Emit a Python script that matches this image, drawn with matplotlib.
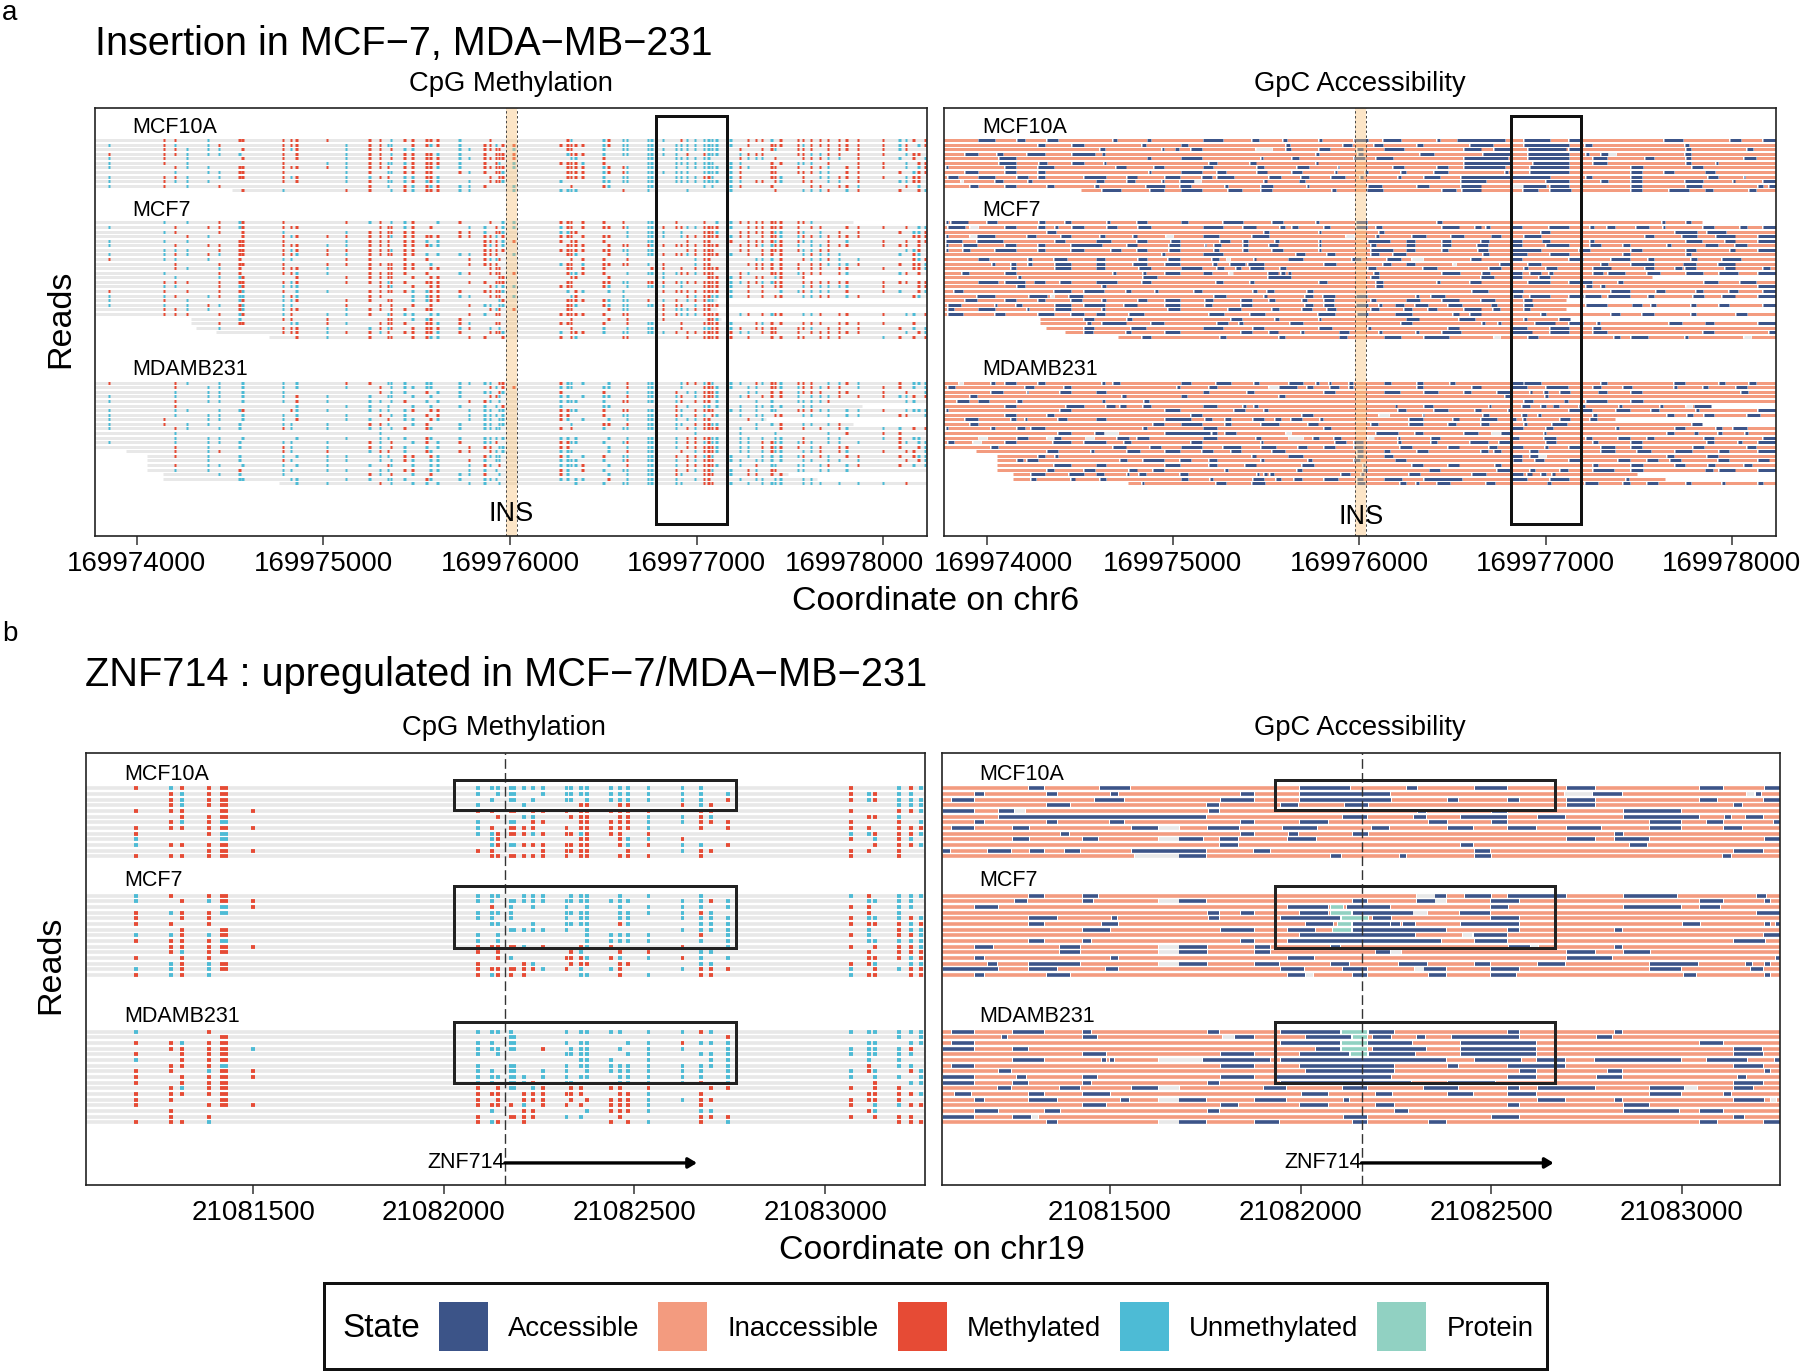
import matplotlib
matplotlib.use("Agg")
import matplotlib.pyplot as plt
from matplotlib.patches import Rectangle
from matplotlib.transforms import ScaledTranslation

plt.rcParams['font.family'] = ['Liberation Sans', 'DejaVu Sans']

W, H = 1800, 1372
DPI = 100
COL = {'acc': '#3C5488', 'ina': '#F39B7F', 'm': '#E64B35', 'u': '#4DBBD5', 'p': '#91D1C2', 'g': '#E8E8E8'}

GROUPS = ['MCF10A', 'MCF7', 'MDAMB231']

# ---- panel a ----
A_BASE = 169974000
A_TICKS = [169974000, 169975000, 169976000, 169977000, 169978000]
A_ROW0 = [0, 18, 53]
B_ROW0 = [0, 19, 43]
A_SITE_BLOCKS = [
    [-150, 145, 204, 268, 381, 440, 552, 568, 783, 826, 853, 1019, 1121, 1249, 1303, 1346, 1362, 1432, 1475, 1550,
     1576, 1609, 1727, 1780, 1861, 1893, 1925, 1941, 1962, 2021],
    [2273, 2306, 2327, 2349, 2391, 2499, 2526, 2606, 2627, 2740, 2761, 2820, 2890, 2917, 2949, 2992],
    [3040, 3062, 3083, 3105, 3180, 3233, 3276, 3319, 3351, 3400, 3421, 3448, 3544, 3571, 3614, 3662, 3705, 3764, 3802,
     3866, 4000, 4086, 4123, 4161, 4188, 4225],
]
A_CPG_MCF10A = [
    ".mm.u.mmmmmm.mm.ummmmmu..m.... .mu..umuuuuu.muu uuuuu.mmmu.mmmmmmmmmmuum.m",
    "umu.um..mmm.ummuu.mmumu.mmu.mm mmmmmumuuuu.uuuu uuuuu.m..mmmmummmmmmmum.um",
    ".mmuuu.mmum.umm.muu...uummmm.u .mm..u.uuuuuuuuu uuuu.m..mmu.mmm.mmmmmum...",
    "mmmuuuu.m.m.umm.ummmmuu.m.mmmm .ummmu.uuuuuu.m. muuu.ummm...mmuumm.mm.umm.",
    "um.u...mm.m.umm.mmmmmmuummmmmm ..uu.m...uu.uuuu uu...muuu.m..mmmuu.m.u.m.u",
    "um.u....m..uummuuummmmu.m.mu.u mmmmum...uu.uuuu uuu.uu...m.muuu.m..mm.u.mm",
    "u.muu.mmmmmmummm.mmmmuu.mmmmmu .mmmmummuuu.u.uu uuuuumu..mm.m.mmu.mmm.u.um",
    "..u.uummm...um.uummmm.mum.mmu. .mmmmummuuuuuuu. uuuuum...mm.mmmuu.mm.m.umm",
    "ummu.ummmum.uumm.uummu...m.mm. .mmmmu.uuuu.uuuu mmu.um...mmu.m.uummmm.umm.",
    "umuuu...m.m.um.uuumumu.u.mmmu. u....uuuuuu.uuuu uuuuuu.mm.mu.mm.uu.m.uumm.",
    "um.u.m.......m.u.mumumuum....u ..m..mu..uu..... u.u.um...m....mm.mmu..m.u.",
    ".......mu...mm..umummmuu.....u uuuu...m.u....u. ....u.....m..uuum.um.m..mu",
]
A_CPG_MCF7 = [
    ".u.u.mumm...mum.uum..um..m..uu mmm.mm.m.uu.m... m..uummmmmmmmmu...........",
    "u.m.mmummmm...mmmum.m..uu.m.uu umm.mmmmuuummmuu mmmmu.mmmmmmm.mm..mmm.m.uu",
    ".um..m.mu...ummmmmm...mmu.mmu. uumm....uuuu.u.. mmmu.mmmmmuumu.u.m.m.m.uum",
    "...mu..mmummmmmmummmmmmmmmu.m. mmm.mmm.uuuu.umm mmmmumm.mmmuummummmm...mmm",
    "uu.u..mmm...ummm.mmu.u..mmm.um m.mm.m...uu...m. mm..m.mmmmummuu.m.u.m.m.mm",
    "u.m.mmmmmmmuummm.mmmuu..mum.u. .mmmm.mmmmummmmm mmmm.mmmuummu.uummm.mmm.m.",
    ".uuu.mmmmummmmmmumm.....mmm.m. mmmmmmmuuuu...mm mmm..mm.mmmmmuumm.....uum.",
    "uumumummmmumummmmmmu.uuummm..u .mmu..m.uuummmum mmmmu.m.mm.m.umuuu...u.mu.",
    "muu.u.m.uu..mm...m.m...mmuum.. ..m.mm..m......u mm.....uuu.m.muumu.u...mum",
    "..m..mmmm..mmmmmmmm.u..mmmm... umm.ummmmu.m...u mm....mmmm.mm.mmuuum.m.mmu",
    "..mu.um.mmmu.m.mmmm.mm...mmm.. .mm.mm....mm.m.m mmmm...mmm.mm.mm.mm.m..mmu",
    ".u...mm.mmuu.mmmmm.m..um.mmm.m .muumm..uuuuummu mmm..mu..mmmummm.mu..um.m.",
    "..u..uum..m.mmmmm.m.mm.....mm. ..mm..m....u.... .mmmum.mm.um.mm.m.mm......",
    ".mmm.mmmmum.mmmumm.mmm.mm.mmm. .mm..mmuummmmumm mmmmuummuumm.mmmmmm.mmm.mm",
    ".uu..mumuuu...mmu.m.mm...mu.uu mmm..mu.uuuu.u.. mmmmu.m.m.mm.umuuuu.m...mmm",
    "mm.m.mmum.uu.mmmmmuummm.mmmmu. .u.mu.uu...mmmmm mmmmu.m.m..uumuuu.m.mu..mu",
    "uum.umuuumu..mm...uummuu.mmm.u ..um...u......mu mmuuu.m.m.mm.uumm.um...mu.",
    "um.u..umuum.mm.mm.uumm.....um. .mmmmmuuum.um.um muu.m.mm.m.m.ummuu.mmm.mm.",
    "uu.umumuuu..m.m.m.m.m..muu.uu. .mmu.muuuuummm.u mmmm......................",
    ".mmuu.muumm.umm.mm.mm....mum.m .mm...muu..muuum mm..m.m.mm.m.mmmm.m.m.mm.u",
    ".mmm.mumum.uum.umuu.uu.mu.mm.. mmmmmm.mm..mmuuu mmmm.um.mumm.uum.mm.m.uu.m",
    "......u.mm.m...mm.uum.m....... ..m...m.m..m.... .mmu......................",
    ".....mmm.uumu.mmmm.mmumu..mm.. mmm..m..muu..m.. mmmmu..mum.m.mmm.mmmm..m..",
    ".....u..mmmu.umum.mmmmum.u.u.. ..m..u..uuu..m.. uummum.mmmm.mmu.mm.m.m.u.u",
    "........mmmummum.mmmmum..mmmu. u.mmmu.uuuuum.mm mmmmmuu.mmm.m.mmmmmm..u.mu",
    "..........mu.m.mm.mmuu.mm...m. m.mu...mm.....m. mmmmm.m..m.mmm.mmm..um.m.m",
]
A_CPG_MDAMB = [
    "m.mu.u.uu.u.mm.uuu.uu.uuuu.mm. muu.u.u.muu..umm umu.uu.mummummm.uumu.m.uuu",
    "..m.uu.uu.u.u.m.uuuuu.u..mu.mm uuu..uu.muu..u.. mmmuu.uu.mmuummumm.umm.u.u",
    "..u.uu.uu.....m.uu.m.uu.uu.mu. m....m..uuu.m.uu mmmu..uu.m.mummm.mm.m.m..u",
    "u.u.uu.uu.mu.u.uu.u.u.u..mmu.. uu..uuu.muu.um.u mmmu.um.mm.mu.uuum.mmuum.m",
    "u.m.uu.uu.mu.uu.um.u.u.mmu.u.. uuuu.u.mmuu.um.m mm.u...u.u..uuuum.....uu..",
    "..m.......u.uu.u..u.u.u.u.u.m. u....uu.....m.u. uu.u.u.uuu.u.uu...........",
    "u.uu.uum.muu.uuu.um.mm.uuu.uu. mmuu.m.mmuu.mu.m mmm.uu.u.uu.mmmuu.uum.uuuu",
    "u.u.uu.uu.u.u.m.uu.m.m.uuuu.u. mm...m.uuuu.mu.m u.mu.u.uu.mm.uu.u.uu.mm..u",
    "um..uu.uu.m.uu.m.uu.mu.uuu.uu. mu..u.u.uuu.u.uu mm....m.uu................",
    "um.uu.u.uu.u.mmu..um..u.uu.uu. ..u..mm.muu.uu.m mmuu...u.u.m.uu.um........",
    "u.mu.uu.mu.u.uu.um.mu.u.uuuu.. m.m..u.uuuu.u.mu mmmm.u.u...m.m.m.mu.uu.m.m",
    "..u...........u............... ...............u .....u....u.....u.m.mm....",
    "..u.uu.u..u.u.uu.u.mu.u.uuu.u. uu.u..u.uuu.u.mm mmuu.uu.u.uu.m..uu..um.uu.",
    "u.u.uuu.uu.u.mu.m.um.um.uum... mmuu.u.umuu.u.mm umuu.uu.mmuuumu.uu.u.mu.uu",
    "..m.u.u.mu.u.mu.mu.u.u.mmm.uu. mm....u.uuu.u.mm mmmu.uu.mmumm.um.mm..m..mu",
    "..m.um..mu.m.umm.u.mu.mm.mu.u. uuu...u.muu..m.u mmmu.uu.umuu.uum.mu.m.mm.u",
    "..m.u.u.u.uuu.uu.mm.mu..muuu.. mu..um.uuuu.m.mm umu.u.u.uu.uum.mu.mm.m.muu",
    "....u.u.mu.uu.u.umu.uu.mu.uu.. uuuu.u.umuu.u.mu mmm.uu.uuu.u.uu.uu.u..m.mu",
    "..m.uu.uu.uu.u.mu.u.uu.umu.m.. uuuum.u.muu.u.mm mmmu.u.m.uu.uu.um.um.m.u.u",
    "..u.u.m.uu.uu.uu.mm.uu.uu.u... mu..mu.uuuu.m.mu mmu.u.mu.mm.uu.uu.u.......",
    ".....uu.u....mu.m.u.m.uum..u.. mu....u.uuu.mu.. mmm.u.mm.m.muu.uu.........",
    "......uu.uu.uu.uuu.mu.u.uuu... uu.uu.m.uuu.u..u mm...u.uu.uu.uuu.u........",
    "..........uu..m.u.uu.u.uu..u.. ...u.u.uuuu.uu.. mmm.u.u.uuuu.uuu.u.uu.m...",
]
A_SPANS_MCF10A = {11: (257, None)}
A_SPANS_MCF7 = {0: (None, 1388), 12: (None, 1298), 17: (None, 1140), 19: (None, 1140), 21: (183, 1148),
                22: (183, None), 23: (193, None), 24: (228, None), 25: (325, None)}
A_SPANS_MDAMB = {5: (None, 1405), 8: (None, 1230), 9: (None, 1388), 15: (65, None), 16: (103, None), 17: (103, None),
                 18: (103, None), 19: (103, None), 20: (132, 1270), 21: (132, 1322), 22: (343, None)}

A_GPC_MCF10A = [
    "70-100 140-155 195-215 315-322 378-385 480-515 568-582 625-632 690-697 755-780 808-840 905-912 943-1030 1065-1112 1147-1167 1320-1355 1440-1460 1500-1525",
    "178-192 240-262 368-375 440-452 630-637 735-750 790-808 870-880 965-1008 1065-1147 1175-1188 1358-1365",
    "292-300 405-408 432 458-478 g575-605 630-640 690-710 760-770 810-845 955-985 1010-1040 1072-1140 1147-1167 1360-1368 1470-1482",
    "45-70 103-115 158-192 240-282 296-300 685-690 762-770 875-900 990-1040 1072-1147 1180 1205-1218 g1218-1232 1358-1368",
    "108-138 378-385 440-478 585-588 642-655 755-775 795-825 955-1035 1072-1147 1190-1215 1285-1302 1360-1368 1465-1488",
    "108-138 180-195 240-262 298-302 490-505 565-575 685-688 955-1040 1080-1147 1190-1215 1360-1368 1415-1418",
    "10-15 118-138 178-208 320-338 390-408 480-498 578-590 650-672 725-728 825-845 905-925 955-1030 1075-1147 1260-1282 1370-1390",
    "45-70 118-138 178-192 380-385 440-478 505-522 578-595 642-660 720-723 775-780 840-850 900-925 1030-1035 1075-1147 1260-1280 1320-1338 1395-1412",
    "15-32 70-100 140-160 178-192 262-302 340-358 410-438 478-495 505-535 600-622 658-672 712-738 765-770 835-840 882-912 950-1112 1178-1188 1260-1280 1400-1418 1465-1468",
    "g38-42 100-115 160-168 285-298 340-355 405-408 438-462 g462-475 590-595 655-665 950-995 1105-1147 1205-1218 1260-1280 1358-1390 1445-1448 1500-1525",
    "55-70 118-138 195-208 282-290 375-410 438-458 520-525 585-607 668-672 780-806 870-892 950-985 g1045-1060 1062-1105 1112-1147 1260-1280 1360-1388 1490-1500 1510-1525",
    "295-330 382-408 440-478 525-550 585-605 715-722 778-808 915-940 952-985 1062-1090 1112-1150 1260-1280 1328-1365 1395-1408 1475-1488",
]
A_GPC_MCF7 = [
    "10-15 20-50 85-103 180-192 228-238 305-310 358-378 440-452 515-552 605-625 685-690 758-778 905-915 1315-1322 1360-1368",
    "15-45 g55-70 118-138 178-192 210-215 240-262 305-322 360-385 480-515 552-575 620-628 642-652 700-710 758-778 795-805 915-945 975-985 995-1002 1040-1060 1110-1147 1185-1192 1215-1230 1268-1292 1318-1322 1390-1410 1458-1470 1500-1525",
    "195-212 590-600 690-695 800-810 1095-1112 1340-1380 1398-1432",
    "10-15 g55-65 68-100 158-175 220-238 292-300 352-358 g412-425 480-508 568-600 g740-755 795-800 860-885 932-955 1005-1022 1065-1095 1285-1302 1352-1380 1415-1448 1490-1525",
    "10-40 68-115 210-228 285-312 358-378 420-438 510-528 552-562 610-618 690-695 780-820 850-865 915-932 985-1000 1040-1060 1098-1112 1185-1192 1360-1388 1430-1448 1490-1525",
    "10-15 42-68 118-138 178-192 238-295 340-358 418-438 482-485 500-512 552-562 600-615 690-695 785-795 850-865 915-932 978-998 1040-1060 1105-1147 1185-1205 1245-1258 1325-1332 1395-1418 1448-1470",
    "10-15 42-55 100-138 178-192 238-262 312-330 358-378 418-438 500-508 552-562 605-625 690-695 785-825 850-865 915-925 980-998 1040-1095 1165-1185 1260-1280 1360-1378 1440-1448 1490-1525",
    "405-410 480-515 648-665 705-720 785-800 825-850 990-1000 1040-1070 1112-1147 1245-1258 1360-1368",
    "70-90 160-168 208-232 285-300 360-378 415-438 495-508 g525 572-575 635-662 750-768 815-840 g860-880 968-985 1040-1060 1147-1172 1222-1258 1290-1302 1368-1380 1425-1460",
    "95-100 130-138 160-168 210-238 285-300 352-378 410-438 498-505 528-555 562-590 700-722 808-822 850-865 g938 1020-1040 1072-1095 1205-1218 1260-1302 1355-1378 1418-1448",
    "130-138 210-238 285-300 362-385 440-478 505-518 540-548 565-590 620-630 780-795 880-905 1000-1022 1065-1072 1105-1125 1190-1222 1285-1302 1340-1352 1358-1378 1430-1448 1500-1512",
    "40-52 118-138 315-320 370-375 410-438 480-495 g530 598-615 622-628 635-640 790-800 915-948 988-1002 1040-1060 1075-1095 1110-1118 1190-1208 1218-1248 1288-1312 1360-1390 1420-1455 1490-1525",
    "142-148 370-395 598-640 785-800 985-1010 1040-1060 1092-1112",
    "70-105 118-155 172-192 218-238 285-322 368-385 502-515 565-572 690-705 795-808 905-912 965-985 1072-1112 1147-1188 1235-1245 1392-1418 1458-1488",
    "140-155 295-302 795-808 1178-1188 1205-1212 1490-1525",
    "25-42 208-238 262-298 338-348 392-398 462-478 570-578 595-608 668-680 970-998 1040-1062 1222-1258 1305-1322 1378-1390 1438-1455 1500-1525",
    "68-100 162-195 g205 235-260 500-522 590-595 665-680 698-720 758-778 870 895-920 1045-1060 1075-1112 1147-1172 1175-1205 1218-1258 1290-1302 1372-1392 1425-1448 1490-1525",
    "45-68 118-138 178-192 238-258 295-302 360-378 410-438 482-498 548-568 600-610 660-668 700-718 785-795 850-875 915-945 985-1012 1065-1078",
    "15-38 100-103 138-150 210-238 262-300 335-358 410-438 482-495 548-568 665-680 700-718 758-780 800-805 830-845 865-890 925-952 1005-1015 1065-1080 1178-1215 1262-1280 1295-1305 1368-1378 1420-1438 1500-1525",
    "15-25 70-100 158-162 210-238 295-300 415-438 525-548 605-618 660-678 705-722 785-800 845-860 890-905 955-985 1008-1020 1065-1075",
    "15-42 100-118 178-208 238-262 285-300 345-372 490-518 565-592 688-720 760-780 830-860 935-945 965-985 1095-1105 1222-1240 1280-1302 1368-1378 1450-1470",
    "262-280 340-350 530-550 610-618 690-695 850-872 945-975 1065-1070 1128-1148",
    "268-275 295-338 385-408 505-525 545-552 638-662 840-860 990 1020 1085-1120 1147-1172 1200 1328-1352 1395-1410 1490-1525",
    "262-280 348-375 480-515 570-590 690-715 780-785 925-945 1040-1070 1112-1147 1190-1205",
    "262-278 338-348 410-438 548-568 600-615 660 728-745 800-805 870 915-950 1040-1078 1112-1147 1190-1215 1390-1410 1510-1525",
    "368-385 510-522 618-628 728-742 810-840 882-928 g1010-1020 1072-1090 1228-1240 1260-1290 1360 g1465-1478",
]
A_GPC_MDAMB = [
    "g38 92-100 118-138 178-192 295-300 315-328 440-458 503-530 572-582 636-662 685-690 708-712 745-752 810-822 870-880 930-938 1040-1062 1065-1095 1205-1215 1338-1358 1420-1430 1475-1488",
    "15-28 155-172 225-238 432-438 490-505 g600-615 618-650 668-680 710-728 745-752 870-880 970-985 1040-1070 1105-1145 1190-1205 1245-1262 1340 1390-1400 1450-1470",
    "92-115 158-160 218-238 285-302 480-490 560-572 700-720 810-838 882-908 955-968 1015-1040 1075-1078 1100-1108 1130-1148 1200-1215 1260-1280 1460-1472",
    "55-68 332-338 440-450 618-628 1030-1040 1105",
    "30-52 70-90 140-150 296-300 372-380 1065-1080 1138-1145 1178-1215 1260-1282",
    "118-138 230-262 302-318 328-338 370-385 480-505 555 572-580 830-832 882-898 1000-1005 1060-1075 1095-1105 1118-1128 1165-1175 1240 1315 g1360-1370 1375-1405",
    "10-15 218-238 410-438 535-555 590-598 835-850 900-925 975-985 1035-1040 1147-1188 1232-1258 1295-1310 1380 1490-1525",
    "118-138 195-208 458-478 660-680 g800-818 880-882 990-1000 1060-1070 1090-1095 1190-1198 1325-1338 1362-1372 1392-1410 1470-1495",
    "45-70 130-138 155-158 215-232 285-302 410-458 482-495 520-530 570-590 610-622 640-660 695 855-880 935-945 985-1015 1040-1050 1065 1130-1148 1185-1198",
    "55-70 388-408 440-478 520-530 585-618 670-688 785-798 855-880 925-940 985-1000 1065-1070 1115-1142 1370-1388",
    "10-15 92-100 140-155 165-192 370-378 480-505 700-712 1040-1062 1105-1118 1235 1340-1358 1415-1425 1445-1470",
    "215-238 282-298 g298-325 410-492 495-505 520-540 g630-640 795-835 865-880 955-980 g1005-1020 1022-1040 1100-1105 1325-1338 1378 1418-1425 1470",
    "g70-85 140-160 g195-205 208-220 g265-280 322-345 358-380 480-505 575-585 g635-662 680-690 718-730 g780-790 835-838 895-912 1042-1055 1100-1122 1178-1188 1235-1258 1288-1302 1392-1410 1500-1525",
    "15-25 g60-75 118-138 205-238 262-302 335-348 458-478 585-588 720-740 755-770 838 895-905 965-998 1018-1040 1105-1122 1190-1200 1260-1280 1398-1410 1458 1490-1525",
    "92-105 315-338 382-402 440-478 515-548 585-612 652-668 700-720 755-770 838-860 925-945 1000-1015 1040-1062 1105 1147-1167 1205-1230 1260-1280 1372-1392 1470-1488",
    "195-215 275-280 340-365 410-438 478-498 530-548 605-628 760-770 810-820 870-890 985-998 1010-1022 1075-1090 1205-1230 1270-1295 1340-1370 1420-1438 1490-1525",
    "178-192 210-215 568-575 635-662 760-770 810-825 1040-1060 1075-1090 g1090-1105 1325-1338 1398-1418",
    "140-152 158-178 328-340 370-408 438-458 490-505 585-590 670-678 755-765 830-850 1045-1060 1085-1100 1147-1167 1235-1258 1288-1308 1330-1350 1418-1438 1490-1510",
    "208-238 285-302 410-438 490-505 555-575 660-682 770-775 860-880 925-945 1012-1022 1190-1200 1260-1282 1340-1358 1400-1412 1465-1480",
    "195-208 262-282 345-358 388-408 520-525 650-660 770-778 892-912 1015-1038 1075-1085 1130-1145 1190-1228 1260-1282 1395-1408 1420-1448 1490-1525",
    "165-192 235-262 285-298 340-345 362-375 438-452 578-582 590-595 605 730-748 770 855-875 970-995 1042-1062 1070-1078 1095-1105 1115-1120",
    "165-175 238-245 292-302 440-452 492-498 570-590 612-622 645-660 700-725 760-770 810-842 882-952 1040-1070 1112-1147 1250-1255",
    "368-372 502-522 568-592 760-775 838-850 870 905-930 995-1012 1110 1175-1200 1245-1258 1288-1308 1360-1368 1425-1430 1490-1500",
]

# ---- panel b ----
B_BASE = 21081500
B_TICKS = [21081500, 21082000, 21082500, 21083000]
B_SITE_BLOCKS = [
    [104, 168, 188, 238, 262, 270, 320],
    [735, 760, 772, 795, 802, 820, 836, 855, 898, 906, 925, 935, 980, 996, 1012, 1049, 1112, 1146, 1164, 1196],
    [1423, 1456, 1467, 1512, 1533, 1552],
]
B_CPG_MCF10A = [
    "mummmm. uuuuuuuuuuuuuuuuuu.. m..umu",
    ".mummm. u.uuu..uuuuuuuuuuu.u mumuu.",
    ".mummm. .u.uu.u.uu.uuuuuuu.m mumuuu",
    ".mummm. u....u....mm.mm.mum. ...uuu",
    "mmm.mmm mm.mm.mmm.mmmmmm.mm. m..mmu",
    "..mmmm. ..m..uu..mmm.mmuumu. .mmu..",
    ".mumuu. u..uu.mm..mmmmmuummm m..m.u",
    "mmmmmmm um.mmmm.m.mmmmmu.m.m mm.mmm",
    "m..muu. uummmmummmummm.m.... uummmu",
    "u...uu. .um.......mm.muum... m.umu.",
    "ummmmm. .umuummmmmmm.mumuu.m ..mmmu",
    "...mmmm mm.....mmmmm..m.umm. mm.m..",
    "mmmmmm. .mmmmmmmm.mm.mmm.m.. m..m..",
]
B_CPG_MCF7 = [
    "um.mmm. uuu..uuu.uuu.u.u.u.. um.uuu",
    "u.mummm uu.uuuuuuuuuuuu.uumu .uuuu.",
    "....uum .m.u..u.u..u.u.uuu.u mm.uu.",
    "mummuu. uuuu....uuuu.uuuumu. .m.u..",
    "m.mm... uu.u....u.uu.uu.uuuu muuumu",
    "mm.m... .uu...u.uuuu.mu..uuu mmmmum",
    "..m.mm. ...uuuuuu..u....uuuu .u.muu",
    "uumumm. u.u........uuuuu.m.u mu.mmu",
    "mmmmuu. u.u........uuuuu.u.u .uuuuu",
    ".mmmmmm mmmmmu.m..mum...m..u m.mmmu",
    ".mummm. m.m......mu..m.m.uu. .m.mmm",
    "m.mm... ..mu....mmmumu.umu.u .mmmum",
    ".umumm. m....mu..mmm.mm..uu. mmu.uu",
    "uumumm. mmmmmmmum.u.um..ummm u.mumm",
    "mumu... mumm.m....uu.m.u.mm. umm.mm",
]
B_CPG_MDAMB = [
    "u..m... uuuu....u.uuuu.uumu. uuuuuu",
    "....mm. ...uu..............m ...u.u",
    "mmummm. uu.uu...u.uu..uumuuu .uu.uu",
    ".mmmmmu uuuuu..m.uuu.u.uu..u uuuum.",
    "m.mmmm. u.u.....uuuu..uu.uuu uuuuu.",
    "u.mmmm. ..........uuu..u..uu .u.u..",
    ".mmmuu. u..uu...u.uuuuuuuuuu .m.uu.",
    "mm.ummm uu.uu..uu..uuuuuuu.u umu.mu",
    "m.mmmmm uuuuuu.uu.uu.uuuuu.u u.uu.u",
    "m.mmmm. uu.uuum.uu...uuuum.u ..m.uu",
    ".mummm. m.muu.um.mm.mm.m..mm m.mm..",
    "mmmmmm. mmm..mmmmmm..mmu.m.. .mmmmu",
    "mm..mm. m.m..mmm.m.mmmmuumm. mmmm..",
    "m..mmmm mmmm.u.mm.m.mmmu.m.. m.uumm",
    ".m..... .u...mm....ummmu.uu. .mu...",
    ".m.m... m..mmmm.u.u..m...mmm m.mmm.",
    "mmmu... mum..m......m.mu.m.u ...mmm",
]
B_GPC_MCF10A = [
    "163-190 292-347 657-748 852-870 975-1033 1144-1195 1386-1428 1505-1531",
    "64-80 195-214 312-324 548-572 657-820 g1140-1188 1190-1243 g1472-1485 1487-1497",
    "22-62 282-335 512-572 657-823 927-944 1036-1056 1144-1195 1386-1417 1503-1531",
    "195-237 487-508 622-652 738-780 1144-1195 1448-1462",
    "5-62 108-135 g136-155 490-508 872-886 1006-1033 1248-1352",
    "108-485 735-778 864-886 950-1033 1090-1140 1248-1384 1432-1442 1470-1500",
    "64-80 195-214 310-335 548-572 657-708 892-924 1006-1033 1294-1352 1398-1428 1520-1531",
    "22-62 133-162 350-398 g400-435 488-545 626-688 788-818 927-972 1036-1086 1144-1205 1294-1352 1430-1463",
    "220-236 548-572 636-652 753-780 1230-1245",
    "133-162 260-288 g400-435 436-480 511-544 634-685 1144-1195 1230-1292 1505-1531",
    "511-544 950-972 1258-1290",
    "5-18 87-130 164-190 228-255 350-485 573-602 975-1002 1447-1500",
    "g355-435 436-485 712-732 838-850 975-1005 1428-1442",
]
B_GPC_MCF7 = [
    "163-190 260-288 g870-902 903-923 958-1004 1036-1142 1248-1344 1490-1507",
    "136-158 260-278 g400-435 436-485 753-778 870-902 g903-922 1005-1056 1386-1428 1505-1514",
    "64-106 634-708 p712-735 742-820 1005-1035 1248-1352 1386-1422",
    "488-508 548-572 657-708 p712-750 753-862 g862-888 948-1002 1490-1531",
    "163-214 314-322 490-508 622-730 p733-780 790-822 1005-1056",
    "163-190 295-325 667-716 p726-750 753-820 823-838 845-866 950-1056 1354-1385 1505-1514 1525-1531",
    "260-310 512-572 634-684 p717-750 753-923 1036-1056 1230-1243",
    "657-866 g954-970 973-1034 1502-1531",
    "163-190 260-276 548-572 634-914 975-1034 1447-1505",
    "64-97 218-256 g400-435 436-486 574-602 712-730 1037-1076 g1078-1090 1230-1243",
    "218-256 g400-435 436-486 574-602 795-820 g822-840 1144-1195 1248-1294",
    "64-80 312-324 634-682 1144-1225 1525-1531",
    "87-104 163-256 g400-435 436-486 574-618 712-746 836-888 975-1002 1090-1140 1294-1382 1470-1480 1505-1514",
    "5-105 163-214 302-325 622-663 734-778 g866-882 883-923 1005-1056 1294-1352 1478-1500",
    "64-80 195-237 634-666 g668-680 753-778 892-923 1005-1050 1356-1378 1505-1514",
]
B_GPC_MDAMB = [
    "22-62 133-190 260-276 488-508 622-730 p733-778 782-828 1036-1056 1230-1243",
    "113-122 260-286 g516-536 537-572 667-750 p753-778 790-823 870-885 933-1056 1198-1226",
    "22-62 622-730 p733-778 780-861 950-1086 1386-1428",
    "5-62 133-160 686-730 p733-778 790-886 950-1086 1447-1498",
    "260-303 512-572 656-745 p750-778 782-866 950-1086 1447-1500",
    "133-190 295-303 310-318 g400-478 480-601 622-923 975-1060 1088-1140 1195-1352 1398-1472 1522-1531",
    "22-62 512-572 657-828 927-944 1036-1140 1447-1500",
    "108-130 667-828 1058-1086 1218-1243 1505-1514",
    "5-62 140-156 260-286 512-572 612-823 1036-1086 1198-1243 1455-1470",
    "5-62 133-160 260-276 488-508 622-858 926-1012 1447-1500",
    "105-130 218-256 350-398 g400-435 590-630 735-778 882-944 1036-1056 1090-1195 1294-1356 g1358-1380 1447-1483",
    "27-57 163-190 260-310 660-708 795-824 927-972 1036-1086 1294-1352 1430-1442",
    "64-80 163-214 330-345 g400-435 436-485 574-630 737-745 1090-1140 1230-1243 1447-1502 g1515-1525",
    "260-303 512-544 656-708 795-828 1036-1056 1248-1292",
    "64-105 192-218 488-508 830-853 1248-1348 1386-1428",
    "5-62 133-165 g167-178 736-778 1006-1056 1448-1466",
    "195-214 g400-435 436-485 574-618 753-778 892-923 1385-1417 1503-1531",
]

LEGEND_LABELS = ['Accessible', 'Inaccessible', 'Methylated', 'Unmethylated', 'Protein']
LEGEND_COLORS = [COL['acc'], COL['ina'], COL['m'], COL['u'], COL['p']]

# Conversion of the interval units to genome coordinates
A_GPC = (A_BASE - 250, 2.945)       # origin, bp per unit
B_GPC = (B_BASE - 446, 1.439)
B_CPG = (B_BASE - 454.8, 1.4217)

fig = plt.figure(figsize=(W / DPI, H / DPI), dpi=DPI, facecolor='white')


def px_axes(x0, y0, x1, y1, **kw):
    return fig.add_axes([x0 / W, 1 - y1 / H, (x1 - x0) / W, (y1 - y0) / H], **kw)


def ftext(x, y, s, size, ha='center', va='center', **kw):
    return fig.text(x / W, 1 - y / H, s, fontsize=size, ha=ha, va=va, color='black', **kw)


def pt(px):
    return px * 72 / DPI


def hseg(ax, ys, x0, x1, color, lw, z):
    if ys:
        ax.hlines(ys, x0, x1, colors=color, linewidth=pt(lw), capstyle='butt', zorder=z)


def style(ax, xlim, ylim, ticks):
    ax.set_xlim(*xlim)
    ax.set_ylim(ylim[1], ylim[0])
    ax.set_yticks([])
    ax.set_xticks(ticks)
    ax.set_xticklabels([str(t) for t in ticks], fontsize=20)
    ax.tick_params(axis='x', length=6.5, width=1.1, color='#333333', pad=4.5)
    for s in ax.spines.values():
        s.set_linewidth(1.2)
        s.set_color('#222222')
        s.set_zorder(20)


def nudge_label(ax, index, dx_px):
    lab = ax.get_xticklabels()[index]
    lab.set_transform(lab.get_transform() + ScaledTranslation(dx_px / DPI, 0, fig.dpi_scale_trans))


def span_of(spans, r, conv, xlim):
    s, e = spans.get(r, (None, None))
    s = xlim[0] - 200 if s is None else conv[0] + conv[1] * s
    e = xlim[1] + 200 if e is None else conv[0] + conv[1] * e
    return s, e


def draw_cpg(ax, rows, row0, blocks, to_bp, spans, conv, xlim, lw, w, glw):
    gy, g0, g1 = [], [], []
    mk = {'m': ([], [], []), 'u': ([], [], [])}
    for i, row in enumerate(rows):
        y = row0 + i
        s, e = span_of(spans, i, conv, xlim)
        gy.append(y); g0.append(s); g1.append(e)
        parts = row.split()
        for part, sites in zip(parts, blocks):
            for ch, site in zip(part, sites):
                if ch in mk:
                    bp = to_bp(site)
                    if s <= bp <= e:
                        mk[ch][0].append(y)
                        mk[ch][1].append(bp - w / 2)
                        mk[ch][2].append(bp + w / 2)
    hseg(ax, gy, g0, g1, COL['g'], glw, 1)
    hseg(ax, mk['u'][0], mk['u'][1], mk['u'][2], COL['u'], lw, 2)
    hseg(ax, mk['m'][0], mk['m'][1], mk['m'][2], COL['m'], lw, 3)


def draw_gpc(ax, rows, row0, conv, spans, xlim, lw, gap):
    by, b0, b1 = [], [], []
    wy, w0, w1 = [], [], []
    ry, r0, r1 = [], [], []
    grey = ([], [], [])
    prot = ([], [], [])
    for i, row in enumerate(rows):
        y = row0 + i
        s, e = span_of(spans, i, conv, xlim)
        ry.append(y); r0.append(s); r1.append(e)
        for tok in row.split():
            kind = 'a'
            if tok[0] in 'gp':
                kind, tok = tok[0], tok[1:]
            if '-' in tok:
                a, b = [float(v) for v in tok.split('-')]
            else:
                a, b = float(tok) - 3, float(tok) + 3
            a = conv[0] + conv[1] * a
            b = conv[0] + conv[1] * b
            if b < s or a > e:
                continue
            a, b = max(a, s), min(b, e)
            wy.append(y); w0.append(a - gap); w1.append(b + gap)
            t = {'a': (by, b0, b1), 'g': grey, 'p': prot}[kind]
            t[0].append(y); t[1].append(a); t[2].append(b)
    hseg(ax, ry, r0, r1, COL['ina'], lw, 1)
    hseg(ax, wy, w0, w1, 'white', lw + 0.6, 2)
    hseg(ax, by, b0, b1, COL['acc'], lw, 3)
    hseg(ax, grey[0], grey[1], grey[2], COL['g'], lw, 3)
    hseg(ax, prot[0], prot[1], prot[2], COL['p'], lw, 3)


def box(ax, x0, x1, y0, y1, lw=3.0, color='#111111'):
    ax.add_patch(Rectangle((x0, y0), x1 - x0, y1 - y0, fill=False, ec=color, lw=pt(lw), zorder=10, joinstyle='miter'))


# ---- Panel a axes ----
A_YLIM = (-6.99, 86.5)
AL_XLIM = (169973775, 169978233)
AR_XLIM = (169973771, 169978237)
a_l = px_axes(95, 108, 926.5, 536)
a_r = px_axes(944, 108, 1776, 536)
style(a_l, AL_XLIM, A_YLIM, A_TICKS)
style(a_r, AR_XLIM, A_YLIM, A_TICKS)
nudge_label(a_l, 4, -29)
nudge_label(a_r, 0, 17)

a_cpg = [A_CPG_MCF10A, A_CPG_MCF7, A_CPG_MDAMB]
a_gpc = [A_GPC_MCF10A, A_GPC_MCF7, A_GPC_MDAMB]
a_spans = [A_SPANS_MCF10A, A_SPANS_MCF7, A_SPANS_MDAMB]
for g in range(3):
    draw_cpg(a_l, a_cpg[g], A_ROW0[g], A_SITE_BLOCKS, lambda v: A_BASE + v, a_spans[g], A_GPC, AL_XLIM, 3.0, 15.5, 3.0)
    draw_gpc(a_r, a_gpc[g], A_ROW0[g], A_GPC, a_spans[g], AR_XLIM, 3.0, 5)

INS_BP = (169975977, 169976036)
A_BOXES = ((169976781, 169977162), (169976812, 169977189))
for ax, ins_x, ins_y, bx in ((a_l, 511, 514, A_BOXES[0]), (a_r, 1361, 517, A_BOXES[1])):
    ax.axvspan(*INS_BP, color='#F9C27A', alpha=0.42, lw=0, zorder=5)
    for v in INS_BP:
        ax.axvline(v, color='#444444', lw=0.7, ls=(0, (2.5, 2.5)), zorder=6)
    box(ax, bx[0], bx[1], -5.24, 83.8)
    ftext(ins_x, ins_y, 'INS', 19.5, zorder=30)

# ---- Panel b axes ----
B_YLIM = (-6.29, 70.1)
BL_XLIM = (21081060, 21083262)
BR_XLIM = (21081058, 21083258)
b_l = px_axes(85.5, 752.7, 925, 1185)
b_r = px_axes(941.6, 752.7, 1780, 1185)
style(b_l, BL_XLIM, B_YLIM, B_TICKS)
style(b_r, BR_XLIM, B_YLIM, B_TICKS)
b_cpg = [B_CPG_MCF10A, B_CPG_MCF7, B_CPG_MDAMB]
b_gpc = [B_GPC_MCF10A, B_GPC_MCF7, B_GPC_MDAMB]
for g in range(3):
    draw_cpg(b_l, b_cpg[g], B_ROW0[g], B_SITE_BLOCKS, lambda v: B_CPG[0] + B_CPG[1] * v, {}, B_CPG, BL_XLIM, 3.8, 10, 3.6)
    draw_gpc(b_r, b_gpc[g], B_ROW0[g], B_GPC, {}, BR_XLIM, 3.6, 2.6)

TSS_BP = 21082160
GENE_END_BP = 21082664
BOX_ROWS = [(-1.45, 3.85), (17.35, 28.3), (41.3, 52.0)]
B_BOXES = ((21082027, 21082765), (21081932, 21082668))
for ax, bx in ((b_l, B_BOXES[0]), (b_r, B_BOXES[1])):
    ax.axvline(TSS_BP, color='#333333', lw=1.0, ls=(0, (7, 3)), zorder=6)
    for y0, y1 in BOX_ROWS:
        box(ax, bx[0], bx[1], y0, y1, color='#222222')
    arrow_y = (1163 - 788.3) / 5.66
    ax.annotate('', xy=(GENE_END_BP, arrow_y), xytext=(TSS_BP, arrow_y), zorder=9,
                arrowprops=dict(arrowstyle='-|>,head_length=0.5,head_width=0.3', color='black', lw=2.4,
                                shrinkA=0, shrinkB=0))
    ax.text(TSS_BP, arrow_y, 'ZNF714', fontsize=15.5, ha='right', va='center', zorder=9)

# ---- Text ----
ftext(2, 13, 'a', 20, ha='left')
ftext(2, 634, 'b', 20, ha='left')
ftext(95, 44.5, 'Insertion in MCF\u22127, MDA\u2212MB\u2212231', 28.5, ha='left')
ftext(85, 675.5, 'ZNF714 : upregulated in MCF\u22127/MDA\u2212MB\u2212231', 28.6, ha='left')
for x, y, s in [(511, 84, 'CpG Methylation'), (1360, 84, 'GpC Accessibility'),
                (504, 728, 'CpG Methylation'), (1360, 728, 'GpC Accessibility')]:
    ftext(x, y, s, 19.7)
ftext(936, 601.5, 'Coordinate on chr6', 24.3)
ftext(932, 1250.5, 'Coordinate on chr19', 24.3)
ftext(61, 319, 'Reads', 24.5, rotation=90)
ftext(51, 965, 'Reads', 24.5, rotation=90)
for gname, y in zip(GROUPS, (127.5, 210, 369.5)):
    ftext(132, y, gname, 15.5, ha='left')
    ftext(982, y, gname, 15.5, ha='left')
for gname, y in zip(GROUPS, (774.5, 881, 1017)):
    ftext(124, y, gname, 15.5, ha='left')
    ftext(979, y, gname, 15.5, ha='left')

# ---- Legend ----
lg = px_axes(0, 0, W, H, zorder=-1)
lg.set_xlim(0, W)
lg.set_ylim(H, 0)
lg.axis('off')
lg.add_patch(Rectangle((323.5, 1283), 1547 - 323.5, 1369 - 1283, fill=False, ec='#111111', lw=pt(3)))
SW_X = [439, 658, 897.5, 1120, 1377]
TX_X = [507.7, 727.7, 967, 1188.5, 1447]
for x, tx, c, lab in zip(SW_X, TX_X, LEGEND_COLORS, LEGEND_LABELS):
    lg.add_patch(Rectangle((x, 1302), 49, 49, fc=c, ec='none'))
    lg.text(tx, 1328.5, lab, fontsize=19.8, ha='left', va='center')
lg.text(342, 1328.5, 'State', fontsize=24, ha='left', va='center')

fig.savefig('out.png', dpi=DPI)
